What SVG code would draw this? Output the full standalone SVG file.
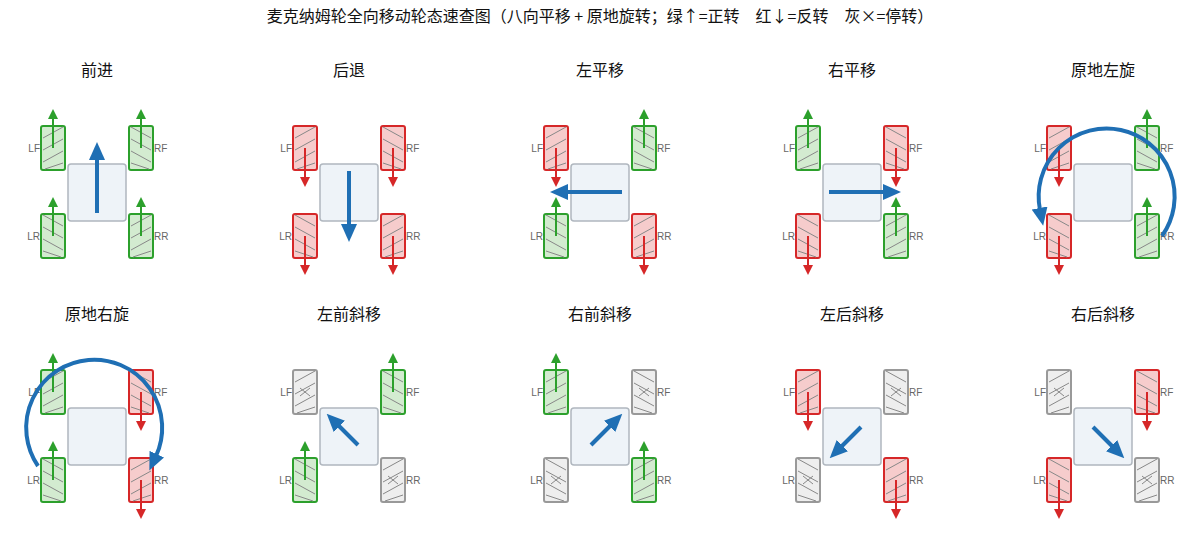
<svg xmlns="http://www.w3.org/2000/svg" xmlns:xlink="http://www.w3.org/1999/xlink" width="1200" height="542" viewBox="0 0 1200 542">
<style>
text{font-family:"Noto Sans CJK SC","Liberation Sans",sans-serif;}
.t{font-size:16px;fill:#111;text-anchor:middle}
.lb{font-size:10px;fill:#666;font-family:"Liberation Sans",sans-serif}
.body{fill:#eef3f8;stroke:#b0b7bf;stroke-width:1.5}
.g{fill:#d3ebd0;stroke:#2ca02c;stroke-width:2}
.r{fill:#f6cccc;stroke:#d62728;stroke-width:2}
.n{fill:#eeeeee;stroke:#999;stroke-width:2}
.h{stroke:#888;stroke-width:1;fill:none}
.ag{stroke:#2ca02c;stroke-width:2;fill:none;marker-end:url(#mg)}
.ar{stroke:#d62728;stroke-width:2;fill:none;marker-end:url(#mr)}
.ab{stroke:#1f6fb4;stroke-width:4;fill:none;marker-end:url(#mb)}
</style>
<defs>
<marker id="mg" markerUnits="userSpaceOnUse" markerWidth="10" markerHeight="10" refX="1" refY="5" orient="auto"><path d="M0,0L10,5L0,10z" fill="#2ca02c"/></marker>
<marker id="mr" markerUnits="userSpaceOnUse" markerWidth="10" markerHeight="10" refX="1" refY="5" orient="auto"><path d="M0,0L10,5L0,10z" fill="#d62728"/></marker>
<marker id="mb" markerUnits="userSpaceOnUse" markerWidth="18" markerHeight="16" refX="2" refY="8" orient="auto"><path d="M0,0L18,8L0,16z" fill="#1f6fb4"/></marker>
<g id="hs"><path class="h" d="M-10,-10L10,-21M-10,2L10,-9M-10,14L10,3M-8,21L10,15"/></g>
<g id="hb"><path class="h" d="M-10,-21L10,-10M-10,-9L10,2M-10,3L10,14M-10,15L8,21"/></g>
<g id="wg"><rect class="g" x="-12" y="-22" width="24" height="44" rx="2"/></g>
<g id="wr"><rect class="r" x="-12" y="-22" width="24" height="44" rx="2"/></g>
<g id="wn"><rect class="n" x="-12" y="-22" width="24" height="44" rx="2"/><path class="h" d="M-5,-4L5,4M-5,4L5,-4" stroke-width="1.3"/></g>
<g id="up"><path class="ag" d="M0,0V-30"/></g>
<g id="dn"><path class="ar" d="M0,0V30"/></g>
<g id="base">
<rect class="body" x="-29" y="-28" width="58" height="57" rx="3"/>
<text class="lb" x="-57" y="-40" text-anchor="end">LF</text>
<text class="lb" x="57" y="-40">RF</text>
<text class="lb" x="-57" y="48" text-anchor="end">LR</text>
<text class="lb" x="57" y="48">RR</text>
</g>
</defs>
<text class="t" x="600" y="22">麦克纳姆轮全向移动轮态速查图（八向平移 + 原地旋转；绿↑=正转　红↓=反转　灰×=停转）</text>

<!-- Row 1 -->
<g id="p-forward" transform="translate(97,192)">
<text class="t" y="-116">前进</text><use href="#base"/>
<g transform="translate(-44,-44)"><use href="#wg"/><use href="#hs"/><use href="#up"/></g>
<g transform="translate(44,-44)"><use href="#wg"/><use href="#hb"/><use href="#up"/></g>
<g transform="translate(-44,44)"><use href="#wg"/><use href="#hb"/><use href="#up"/></g>
<g transform="translate(44,44)"><use href="#wg"/><use href="#hs"/><use href="#up"/></g>
</g>
<g id="p-back" transform="translate(349,192)">
<text class="t" y="-116">后退</text><use href="#base"/>
<g transform="translate(-44,-44)"><use href="#wr"/><use href="#hs"/><use href="#dn"/></g>
<g transform="translate(44,-44)"><use href="#wr"/><use href="#hb"/><use href="#dn"/></g>
<g transform="translate(-44,44)"><use href="#wr"/><use href="#hb"/><use href="#dn"/></g>
<g transform="translate(44,44)"><use href="#wr"/><use href="#hs"/><use href="#dn"/></g>
</g>
<g id="p-left" transform="translate(600,192)">
<text class="t" y="-116">左平移</text><use href="#base"/>
<g transform="translate(-44,-44)"><use href="#wr"/><use href="#hs"/><use href="#dn"/></g>
<g transform="translate(44,-44)"><use href="#wg"/><use href="#hb"/><use href="#up"/></g>
<g transform="translate(-44,44)"><use href="#wg"/><use href="#hb"/><use href="#up"/></g>
<g transform="translate(44,44)"><use href="#wr"/><use href="#hs"/><use href="#dn"/></g>
</g>
<g id="p-right" transform="translate(852,192)">
<text class="t" y="-116">右平移</text><use href="#base"/>
<g transform="translate(-44,-44)"><use href="#wg"/><use href="#hs"/><use href="#up"/></g>
<g transform="translate(44,-44)"><use href="#wr"/><use href="#hb"/><use href="#dn"/></g>
<g transform="translate(-44,44)"><use href="#wr"/><use href="#hb"/><use href="#dn"/></g>
<g transform="translate(44,44)"><use href="#wg"/><use href="#hs"/><use href="#up"/></g>
</g>
<g id="p-rotl" transform="translate(1103,192)">
<text class="t" y="-116">原地左旋</text><use href="#base"/>
<g transform="translate(-44,-44)"><use href="#wr"/><use href="#hs"/><use href="#dn"/></g>
<g transform="translate(44,-44)"><use href="#wg"/><use href="#hb"/><use href="#up"/></g>
<g transform="translate(-44,44)"><use href="#wr"/><use href="#hb"/><use href="#dn"/></g>
<g transform="translate(44,44)"><use href="#wg"/><use href="#hs"/><use href="#up"/></g>
</g>

<!-- Row 2 -->
<g id="p-rotr" transform="translate(97,436)">
<text class="t" y="-116">原地右旋</text><use href="#base"/>
<g transform="translate(-44,-44)"><use href="#wg"/><use href="#hs"/><use href="#up"/></g>
<g transform="translate(44,-44)"><use href="#wr"/><use href="#hb"/><use href="#dn"/></g>
<g transform="translate(-44,44)"><use href="#wg"/><use href="#hb"/><use href="#up"/></g>
<g transform="translate(44,44)"><use href="#wr"/><use href="#hs"/><use href="#dn"/></g>
</g>
<g id="p-lf" transform="translate(349,436)">
<text class="t" y="-116">左前斜移</text><use href="#base"/>
<g transform="translate(-44,-44)"><use href="#wn"/><use href="#hs"/></g>
<g transform="translate(44,-44)"><use href="#wg"/><use href="#hb"/><use href="#up"/></g>
<g transform="translate(-44,44)"><use href="#wg"/><use href="#hb"/><use href="#up"/></g>
<g transform="translate(44,44)"><use href="#wn"/><use href="#hs"/></g>
</g>
<g id="p-rf" transform="translate(600,436)">
<text class="t" y="-116">右前斜移</text><use href="#base"/>
<g transform="translate(-44,-44)"><use href="#wg"/><use href="#hs"/><use href="#up"/></g>
<g transform="translate(44,-44)"><use href="#wn"/><use href="#hb"/></g>
<g transform="translate(-44,44)"><use href="#wn"/><use href="#hb"/></g>
<g transform="translate(44,44)"><use href="#wg"/><use href="#hs"/><use href="#up"/></g>
</g>
<g id="p-lb" transform="translate(852,436)">
<text class="t" y="-116">左后斜移</text><use href="#base"/>
<g transform="translate(-44,-44)"><use href="#wr"/><use href="#hs"/><use href="#dn"/></g>
<g transform="translate(44,-44)"><use href="#wn"/><use href="#hb"/></g>
<g transform="translate(-44,44)"><use href="#wn"/><use href="#hb"/></g>
<g transform="translate(44,44)"><use href="#wr"/><use href="#hs"/><use href="#dn"/></g>
</g>
<g id="p-rb" transform="translate(1103,436)">
<text class="t" y="-116">右后斜移</text><use href="#base"/>
<g transform="translate(-44,-44)"><use href="#wn"/><use href="#hs"/></g>
<g transform="translate(44,-44)"><use href="#wr"/><use href="#hb"/><use href="#dn"/></g>
<g transform="translate(-44,44)"><use href="#wr"/><use href="#hb"/><use href="#dn"/></g>
<g transform="translate(44,44)"><use href="#wn"/><use href="#hs"/></g>
</g>

<g id="connectors">
<path class="ab" d="M97,213V158"/>
<path class="ab" d="M349,171V226"/>
<path class="ab" d="M622,192H566"/>
<path class="ab" d="M829,192H885"/>
<path class="ab" d="M1162,236A68,68 0 1 0 1040,210"/>
<path class="ab" d="M38,466A68,68 0 1 1 156,456"/>
<path class="ab" d="M358,445L338,425"/>
<path class="ab" d="M591,445L611,425"/>
<path class="ab" d="M861,427L841,447"/>
<path class="ab" d="M1093,427L1113,447"/>
</g>
</svg>
